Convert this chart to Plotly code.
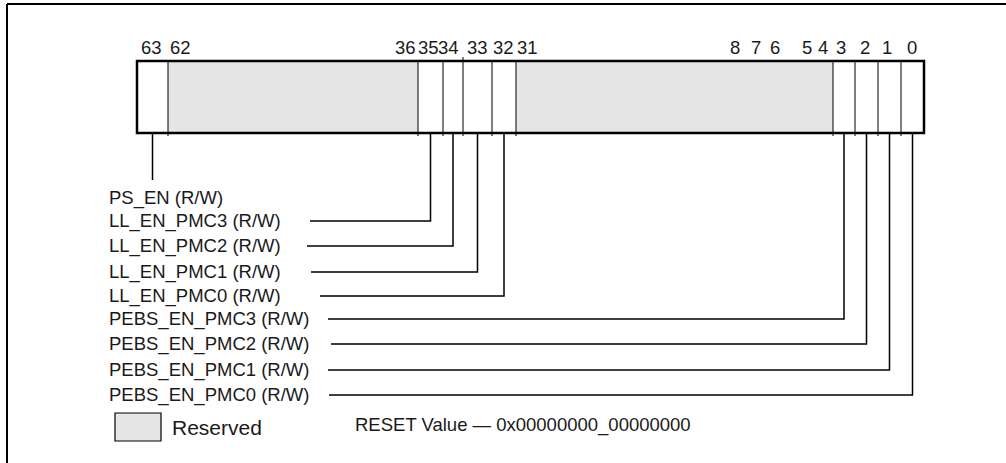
import plotly.graph_objects as go

# register bit numbers shown above the box
bit_labels = ["63", "62", "36", "35", "34", "33", "32", "31",
              "8", "7", "6", "5", "4", "3", "2", "1", "0"]

# named fields (top to bottom) and the bit each one points at
field_names = ["PS_EN (R/W)", "LL_EN_PMC3 (R/W)", "LL_EN_PMC2 (R/W)",
               "LL_EN_PMC1 (R/W)", "LL_EN_PMC0 (R/W)", "PEBS_EN_PMC3 (R/W)",
               "PEBS_EN_PMC2 (R/W)", "PEBS_EN_PMC1 (R/W)", "PEBS_EN_PMC0 (R/W)"]
field_bits = [63, 35, 34, 33, 32, 3, 2, 1, 0]

reserved_ranges = [(62, 36), (31, 4)]
reset_value = "0x00000000_00000000"

# ---- drawing geometry (pixels, the axes are set up 1:1 with the page) ----
W, H = 1006, 463
box_l, box_r, box_t, box_b = 137, 924, 61, 133
# left edge of each cell, keyed by the highest bit of the cell (-1 = right edge)
cell_edges = {63: 137, 62: 168, 35: 418, 34: 443, 33: 463, 32: 492,
              31: 516, 3: 833, 2: 855, 1: 878, 0: 901, -1: 924}
label_x = [151, 180, 405, 428, 448, 477, 503, 527,
           735, 756, 775, 807, 823, 841, 865, 887, 912]
label_y = 47
row_y = [198, 221, 246, 272, 296, 319, 344, 370, 395]
line_start = [None, 310, 307, 311, 320, 328, 331, 328, 329]
text_x = 107

FONT = "Liberation Sans, Arial, Helvetica, sans-serif"
INK = "#1a1a1a"
GRAY = "#e5e5e5"

keys = sorted(cell_edges, reverse=True)


def cell_of(bit):
    k = min(k for k in keys if k >= bit)
    nxt = keys[keys.index(k) + 1]
    return cell_edges[k], cell_edges[nxt]


def bit_center(bit):
    a, b = cell_of(bit)
    return (a + b) / 2


fig = go.Figure()
shapes = []
annotations = []

# outer frame (only top and left edges are in view)
shapes.append(dict(type="line", x0=7, y0=4, x1=W, y1=4, line=dict(color="black", width=2)))
shapes.append(dict(type="line", x0=7, y0=4, x1=7, y1=H, line=dict(color="black", width=2)))

# reserved fills
for hi, lo in reserved_ranges:
    x0 = cell_edges[hi]
    x1 = cell_of(lo)[1]
    shapes.append(dict(type="rect", x0=x0, x1=x1, y0=box_t, y1=box_b,
                       fillcolor=GRAY, line=dict(width=0), layer="below"))

# cell dividers
for k in keys[1:-1]:
    x = cell_edges[k]
    top = box_t - 4 if k == 33 else box_t
    shapes.append(dict(type="line", x0=x, x1=x, y0=top, y1=box_b + 3,
                       line=dict(color="black", width=1)))

# register outline
shapes.append(dict(type="rect", x0=box_l, x1=box_r, y0=box_t, y1=box_b,
                   line=dict(color="black", width=2.5)))

# bit numbers
for lab, x in zip(bit_labels, label_x):
    annotations.append(dict(x=x, y=label_y, text=lab, showarrow=False,
                            xanchor="center", yanchor="middle",
                            font=dict(family=FONT, size=18.5, color=INK)))

# field names and leader lines
for name, bit, y, xs in zip(field_names, field_bits, row_y, line_start):
    annotations.append(dict(x=text_x, y=y, text=name, showarrow=False,
                            xanchor="left", yanchor="middle",
                            font=dict(family=FONT, size=18.5, color=INK)))
    cx = bit_center(bit)
    if xs is None:
        fig.add_trace(go.Scatter(x=[cx, cx], y=[box_b, 180], mode="lines",
                                 line=dict(color="black", width=1.5),
                                 hoverinfo="skip", showlegend=False))
    else:
        fig.add_trace(go.Scatter(x=[cx, cx, xs], y=[box_b, y, y], mode="lines",
                                 line=dict(color="black", width=1.5),
                                 hoverinfo="skip", showlegend=False))

# legend swatch + reset value
shapes.append(dict(type="rect", x0=115, x1=161, y0=413, y1=441,
                   fillcolor=GRAY, line=dict(color="black", width=1.2)))
annotations.append(dict(x=170, y=427, text="Reserved", showarrow=False,
                        xanchor="left", yanchor="middle",
                        font=dict(family=FONT, size=21, color=INK)))
annotations.append(dict(x=353, y=425, text="RESET Value \u2014 " + reset_value,
                        showarrow=False, xanchor="left", yanchor="middle",
                        font=dict(family=FONT, size=18.5, color=INK)))

fig.update_layout(
    width=W, height=H,
    margin=dict(l=0, r=0, t=0, b=0),
    paper_bgcolor="white", plot_bgcolor="white",
    xaxis=dict(range=[0, W], visible=False, fixedrange=True),
    yaxis=dict(range=[H, 0], visible=False, fixedrange=True),
    shapes=shapes, annotations=annotations,
    showlegend=False,
)

# drop the browser's default page margin so the figure sits at (0, 0)
fig.write_html("out.html", config={"displayModeBar": False},
               post_script="document.body.style.margin='0';"
                           "document.body.style.overflow='hidden';")
